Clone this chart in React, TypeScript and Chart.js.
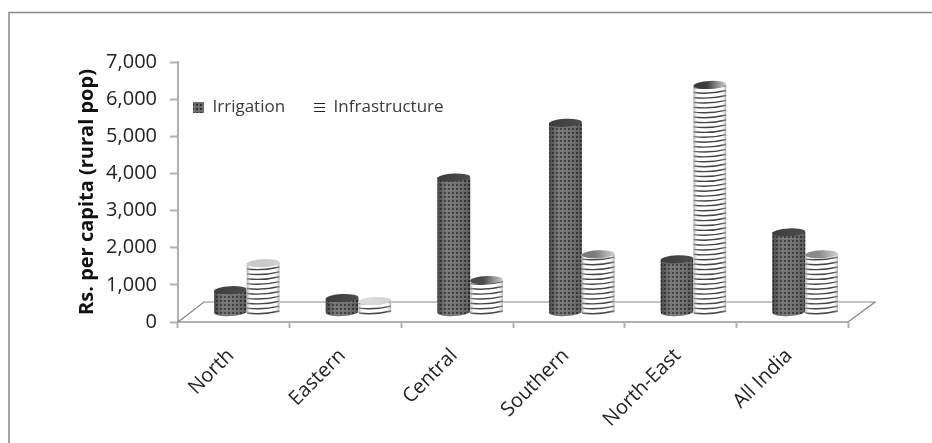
import React, { useEffect, useRef } from "react";
import { Chart, registerables } from "chart.js";

Chart.register(...registerables);

const categories = ["North", "Eastern", "Central", "Southern", "North-East", "All India"];
const irrigation = [590, 375, 3620, 5095, 1420, 2145];
const infrastructure = [1315, 295, 860, 1555, 6115, 1555];
const seriesNames = ["Irrigation", "Infrastructure"];
const yTitle = "Rs. per capita (rural pop)";
const infraCapShades = ["#c9c9c9", "#dcdcdc", "#4a4a4a", "#7a7a7a", "#3c3c3c", "#8a8a8a"];

const FONT = "'Open Sans', Lato, sans-serif";
const DEPTH_X = 26;
const DEPTH_Y = 20;
const SHIFT_X = 13 / 111.7;
const LIFT = 268;

function makePattern(size: number, paint: (c: CanvasRenderingContext2D) => void) {
  const cv = document.createElement("canvas");
  cv.width = size;
  cv.height = size;
  const c = cv.getContext("2d")!;
  paint(c);
  return c.createPattern(cv, "repeat")!;
}

export default function App() {
  const ref = useRef<HTMLCanvasElement>(null);

  useEffect(() => {
    const dots = makePattern(4, (c) => {
      c.fillStyle = "#6a6a6a";
      c.fillRect(0, 0, 4, 4);
      c.fillStyle = "#333333";
      c.fillRect(0, 0, 2, 2);
      c.fillStyle = "#8c8c8c";
      c.fillRect(2, 2, 1, 1);
    });
    const lines = makePattern(4, (c) => {
      c.fillStyle = "#ffffff";
      c.fillRect(0, 0, 4, 4);
      c.fillStyle = "#222222";
      c.fillRect(0, 3, 4, 1);
    });

    const frame = {
      id: "frame",
      beforeDraw(chart: any) {
        const { ctx, width, height } = chart;
        ctx.save();
        ctx.fillStyle = "#ffffff";
        ctx.fillRect(0, 0, width, height);
        ctx.strokeStyle = "#868686";
        ctx.lineWidth = 1.5;
        ctx.beginPath();
        ctx.moveTo(9, height);
        ctx.lineTo(9, 12.5);
        ctx.lineTo(width, 12.5);
        ctx.stroke();
        ctx.restore();
      },
    };

    const placeLegend = {
      id: "placeLegend",
      afterLayout(chart: any) {
        const l = chart.legend;
        const w = l.width;
        const h = l.height;
        l.left = 164;
        l.right = 164 + w;
        l.top = 70;
        l.bottom = 70 + h;
      },
    };

    const floor = {
      id: "floor",
      beforeDatasetsDraw(chart: any) {
        const { ctx, scales } = chart;
        const y0 = scales.y.getPixelForValue(0);
        const l = scales.x.left;
        const r = scales.x.right;
        ctx.save();
        ctx.strokeStyle = "#868686";
        ctx.lineWidth = 1.2;
        ctx.beginPath();
        ctx.moveTo(l, y0);
        ctx.lineTo(l + DEPTH_X, y0 - DEPTH_Y);
        ctx.lineTo(r + DEPTH_X + 1, y0 - DEPTH_Y);
        ctx.lineTo(r, y0);
        ctx.stroke();
        ctx.restore();
      },
    };

    const cylinders = {
      id: "cylinders",
      afterDatasetsDraw(chart: any) {
        const { ctx } = chart;
        chart.data.datasets.forEach((_: any, d: number) => {
          chart.getDatasetMeta(d).data.forEach((bar: any, i: number) => {
            const { x, y, base, width } = bar;
            const left = x - width / 2;
            const right = x + width / 2;
            const ry = 4;
            const tilt = -0.05;
            ctx.save();
            ctx.fillStyle = "#ffffff";
            ctx.fillRect(left, y, width, base - y);
            ctx.beginPath();
            ctx.moveTo(left, y);
            ctx.lineTo(left, base);
            ctx.ellipse(x, base, width / 2, ry, tilt, Math.PI, 0, true);
            ctx.lineTo(right, y);
            ctx.closePath();
            ctx.clip();
            ctx.fillStyle = d === 0 ? dots : "#ffffff";
            ctx.fillRect(left - 1, y - 6, width + 2, base - y + 14);
            if (d === 1) {
              ctx.strokeStyle = "#2a2a2a";
              ctx.lineWidth = 1.4;
              for (let s = base + 1; s > y + 2; s -= 4.9) {
                ctx.beginPath();
                ctx.moveTo(left, s);
                ctx.quadraticCurveTo(x, s + 2, right, s - 2);
                ctx.stroke();
              }
            }
            const g = ctx.createLinearGradient(left, 0, right, 0);
            if (d === 0) {
              g.addColorStop(0, "rgba(0,0,0,0.4)");
              g.addColorStop(0.45, "rgba(255,255,255,0.06)");
              g.addColorStop(1, "rgba(0,0,0,0.2)");
            } else {
              g.addColorStop(0, "rgba(150,150,150,0.75)");
              g.addColorStop(0.14, "rgba(255,255,255,0.12)");
              g.addColorStop(0.85, "rgba(255,255,255,0.12)");
              g.addColorStop(1, "rgba(150,150,150,0.7)");
            }
            ctx.fillStyle = g;
            ctx.fillRect(left - 1, y - 6, width + 2, base - y + 14);
            ctx.restore();

            ctx.save();
            ctx.beginPath();
            ctx.ellipse(x, y, width / 2, ry, tilt, 0, Math.PI * 2);
            const cap = ctx.createLinearGradient(left, 0, right, 0);
            if (d === 0) {
              cap.addColorStop(0, "#3c3c3c");
              cap.addColorStop(1, "#4c4c4c");
            } else {
              cap.addColorStop(0, infraCapShades[i]);
              cap.addColorStop(0.4, infraCapShades[i]);
              cap.addColorStop(1, "#cfcfcf");
            }
            ctx.fillStyle = cap;
            ctx.fill();
            ctx.restore();
          });
        });
      },
    };

    const toPoints = (vals: number[]) => vals.map((v, i) => ({ x: i, y: v }));

    const chart = new Chart(ref.current!, {
      type: "bar",
      data: {
        labels: categories,
        datasets: [
          {
            label: seriesNames[0],
            data: toPoints(irrigation) as any,
            backgroundColor: dots,
            borderWidth: 0,
            xAxisID: "xDepth",
            yAxisID: "yDepth",
            categoryPercentage: 0.585,
            barPercentage: 1,
          },
          {
            label: seriesNames[1],
            data: toPoints(infrastructure) as any,
            backgroundColor: lines,
            borderWidth: 0,
            xAxisID: "xDepth",
            yAxisID: "yDepth",
            categoryPercentage: 0.585,
            barPercentage: 1,
          },
        ],
      },
      options: {
        responsive: false,
        animation: false,
        layout: { padding: { top: 6, right: 84, left: 0, bottom: 0 } },
        plugins: {
          title: { display: false },
          tooltip: { enabled: false },
          legend: {
            position: "top",
            align: "start",
            labels: {
              boxWidth: 11,
              boxHeight: 11,
              padding: 29,
              color: "#3a3a3a",
              font: { family: FONT, size: 17 },
            },
          },
        },
        scales: {
          x: {
            type: "category",
            position: "bottom",
            offset: true,
            afterFit(s: any) {
              s.height = 121;
            },
            grid: {
              offset: true,
              drawOnChartArea: false,
              tickLength: 6,
              tickColor: "#b0b0b0",
              tickWidth: 2,
            },
            border: { color: "#b0b0b0", width: 2 },
            ticks: {
              autoSkip: false,
              maxRotation: 45,
              minRotation: 45,
              padding: 16,
              labelOffset: -3,
              color: "#222222",
              font: { family: FONT, size: 20 },
            },
          },
          y: {
            type: "linear",
            position: "left",
            min: 0,
            max: 7000,
            afterFit(s: any) {
              s.width = 178;
            },
            grid: {
              drawOnChartArea: false,
              tickLength: 8,
              tickColor: "#b0b0b0",
              tickWidth: 2,
            },
            border: { color: "#b0b0b0", width: 2 },
            ticks: {
              stepSize: 1000,
              padding: 13,
              color: "#222222",
              font: { family: FONT, size: 20 },
              callback: (v: any) => Number(v).toLocaleString("en-US"),
            },
            title: {
              display: true,
              text: yTitle,
              color: "#111111",
              font: { family: FONT, size: 20, weight: "bold" },
              padding: { top: 75, bottom: 0 },
            },
          },
          xDepth: {
            type: "linear",
            display: false,
            position: "bottom",
            offset: false,
            min: -0.5 - SHIFT_X,
            max: 5.5 - SHIFT_X,
            grid: { offset: false },
          },
          yDepth: {
            type: "linear",
            display: false,
            position: "left",
            min: -LIFT,
            max: 7000 - LIFT,
          },
        },
      },
      plugins: [frame, placeLegend, floor, cylinders],
    } as any);
    return () => chart.destroy();
  }, []);

  return (
    <div style={{ position: "fixed", left: 0, top: 0, width: 932, height: 443 }}>
      <canvas ref={ref} width={932} height={443} style={{ display: "block" }} />
    </div>
  );
}
